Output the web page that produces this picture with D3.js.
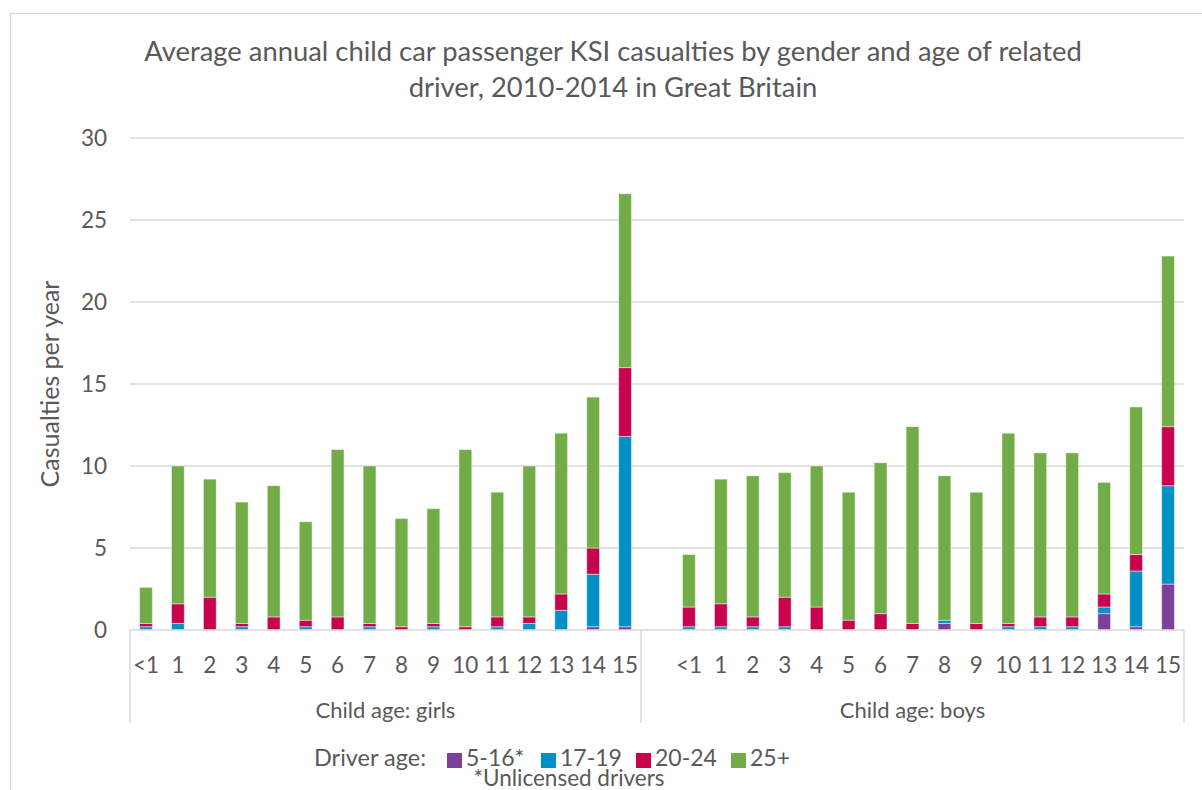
<!DOCTYPE html>
<html>
<head>
<meta charset="utf-8">
<script src="https://cdn.jsdelivr.net/npm/d3@7"></script>
<style>
  html, body { margin: 0; padding: 0; background: #fff; }
  svg { display: block; }
  text { font-family: Lato, "Open Sans", sans-serif; fill: #595959; }
</style>
</head>
<body>
<svg id="chart" width="1202" height="790"></svg>
<script>
// ---------- DATA ----------
const childAges = ["<1","1","2","3","4","5","6","7","8","9","10","11","12","13","14","15"];
const groupLabels = ["Child age: girls", "Child age: boys"];
const seriesNames = ["5-16*", "17-19", "20-24", "25+"];
const yTicks = [0, 5, 10, 15, 20, 25, 30];

// girls (segment values, casualties per year)
const girls_5_16  = [0,0,0,0,0,0,0,0,0,0,0,0,0,0,0.2,0.2];
const girls_17_19 = [0.2,0.4,0,0.2,0,0.2,0,0.2,0,0.2,0,0.2,0.4,1.2,3.2,11.6];
const girls_20_24 = [0.2,1.2,2.0,0.2,0.8,0.4,0.8,0.2,0.2,0.2,0.2,0.6,0.4,1.0,1.6,4.2];
const girls_25p   = [2.2,8.4,7.2,7.4,8.0,6.0,10.2,9.6,6.6,7.0,10.8,7.6,9.2,9.8,9.2,10.6];

// boys
const boys_5_16  = [0,0,0,0,0,0,0,0,0.4,0,0,0,0,1.0,0.2,2.8];
const boys_17_19 = [0.2,0.2,0.2,0.2,0,0,0,0,0.2,0,0.2,0.2,0.2,0.4,3.4,6.0];
const boys_20_24 = [1.2,1.4,0.6,1.8,1.4,0.6,1.0,0.4,0,0.4,0.2,0.6,0.6,0.8,1.0,3.6];
const boys_25p   = [3.2,7.6,8.6,7.6,8.6,7.8,9.2,12.0,8.8,8.0,11.6,10.0,10.0,6.8,9.0,10.4];

const colors = ["#7B3F9C", "#0090C8", "#C8034E", "#71AC47"];

// ---------- BUILD ROWS ----------
const keys = ["s0","s1","s2","s3"];
const rows = [];
childAges.forEach((a, i) => rows.push({key: "g|" + a, s0: girls_5_16[i], s1: girls_17_19[i], s2: girls_20_24[i], s3: girls_25p[i]}));
const gapKey = "b|blank";
childAges.forEach((a, i) => rows.push({key: "b|" + a, s0: boys_5_16[i], s1: boys_17_19[i], s2: boys_20_24[i], s3: boys_25p[i]}));

const domain = [...childAges.map(a => "g|" + a), gapKey, ...childAges.map(a => "b|" + a)];

// ---------- LAYOUT ----------
const svg = d3.select("#chart");
const plot = {left: 130, right: 1184, top: 138, bottom: 630};
const FONT = "Lato, 'Open Sans', sans-serif";

const x = d3.scaleBand().domain(domain).range([plot.left, plot.right]).paddingInner(0.6).paddingOuter(0.3);
const y = d3.scaleLinear().domain([0, 30]).range([plot.bottom, plot.top]);

// outer chart border
svg.append("rect").attr("x", 10.5).attr("y", 13.5).attr("width", 1300).attr("height", 900)
  .attr("fill", "none").attr("stroke", "#d9d9d9").attr("stroke-width", 1.5);

// title
const title = svg.append("text").attr("text-anchor", "middle").style("font-size", "27.4px");
title.append("tspan").attr("x", 613).attr("y", 61).text("Average annual child car passenger KSI casualties by gender and age of related");
title.append("tspan").attr("x", 613).attr("y", 97).text("driver, 2010-2014 in Great Britain");

// gridlines
svg.append("g").selectAll("line").data(yTicks.filter(t => t > 0)).join("line")
  .attr("x1", plot.left).attr("x2", plot.right)
  .attr("y1", d => y(d)).attr("y2", d => y(d))
  .attr("stroke", "#d9d9d9").attr("stroke-width", 1.5);

// y axis labels
const yAxis = d3.axisLeft(y).tickValues(yTicks).tickSize(0).tickPadding(23);
const yg = svg.append("g").attr("transform", `translate(${plot.left},0)`).call(yAxis);
yg.select(".domain").remove();
yg.selectAll("text").style("font-size", "22.5px").attr("fill", "#595959").style("font-family", FONT);

// y axis title
svg.append("text").attr("transform", `translate(59,${(plot.top + plot.bottom) / 2}) rotate(-90)`)
  .attr("text-anchor", "middle").style("font-size", "25px").text("Casualties per year");

// stacked bars
const stacked = d3.stack().keys(keys)(rows);
svg.append("g").selectAll("g").data(stacked).join("g")
  .attr("fill", (d, i) => colors[i])
  .selectAll("rect").data(d => d).join("rect")
  .attr("x", d => x(d.data.key))
  .attr("width", x.bandwidth())
  .attr("y", d => y(d[1]))
  .attr("height", d => Math.max(0, y(d[0]) - y(d[1])))
  .attr("stroke", d => (d[1] - d[0]) > 0 ? "rgba(255,255,255,0.45)" : "none")
  .attr("stroke-width", 1);

// x axis (category labels)
const xAxis = d3.axisBottom(x).tickSize(0).tickPadding(27).tickFormat(k => k === gapKey ? "" : k.split("|")[1]);
const xg = svg.append("g").attr("transform", `translate(0,${plot.bottom})`).call(xAxis);
xg.select(".domain").remove();
xg.selectAll("text").style("font-size", "22.5px").attr("fill", "#595959").style("font-family", FONT);

// baseline
svg.append("line").attr("x1", plot.left).attr("x2", plot.right).attr("y1", plot.bottom).attr("y2", plot.bottom)
  .attr("stroke", "#d9d9d9").attr("stroke-width", 1.5);

// group separators
const step = x.step();
const sepX = [plot.left, plot.left + step * childAges.length, plot.right];
svg.append("g").selectAll("line").data(sepX).join("line")
  .attr("x1", d => d).attr("x2", d => d).attr("y1", plot.bottom).attr("y2", 723)
  .attr("stroke", "#d9d9d9").attr("stroke-width", 1.5);

// group labels
svg.append("g").selectAll("text").data(groupLabels).join("text")
  .attr("x", (d, i) => (sepX[i] + sepX[i + 1]) / 2)
  .attr("y", 718).attr("text-anchor", "middle").style("font-size", "22px").text(d => d);

// legend
const lg = svg.append("g");
lg.append("text").attr("x", 314).attr("y", 766).style("font-size", "23.5px").text("Driver age:");
const legX = [447, 541, 636, 731];
seriesNames.forEach((s, i) => {
  lg.append("rect").attr("x", legX[i]).attr("y", 753).attr("width", 15).attr("height", 15).attr("fill", colors[i]);
  lg.append("text").attr("x", legX[i] + 19).attr("y", 766).style("font-size", "23px").text(s);
});
lg.append("text").attr("x", 569).attr("y", 786).attr("text-anchor", "middle").style("font-size", "22.5px").text("*Unlicensed drivers");
</script>
</body>
</html>
